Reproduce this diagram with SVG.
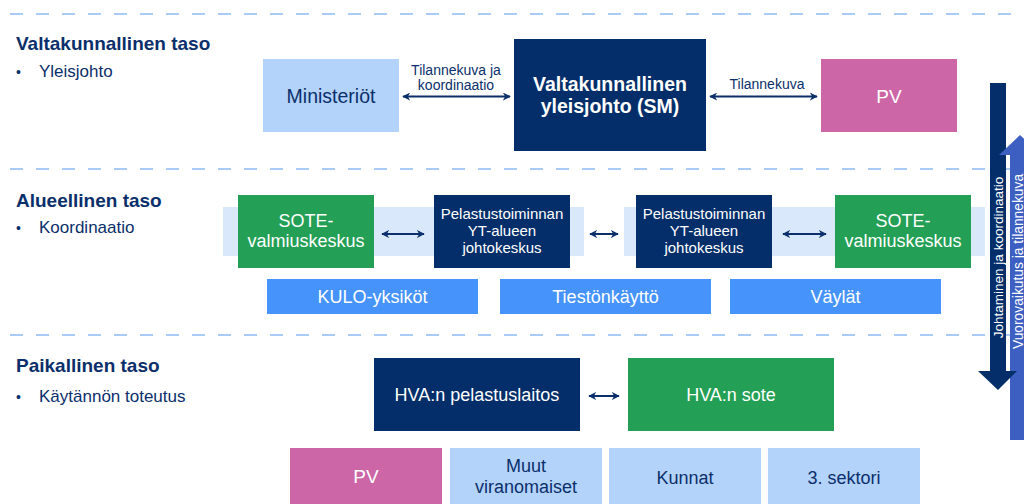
<svg xmlns="http://www.w3.org/2000/svg" width="1024" height="504" viewBox="0 0 1024 504">
<defs>
<style>
text{font-family:"Liberation Sans",Arial,sans-serif;}
.dash{stroke:#a9cbf6;stroke-width:2;stroke-dasharray:13 13;fill:none}
.title{font-weight:bold;font-size:19px;fill:#0b2f6b}
.sub{font-size:17px;fill:#0b2f6b}
.bul{font-size:14px;fill:#0b2f6b}
.navy{fill:#032e69}
.green{fill:#23a055}
.pink{fill:#cc66a6}
.lb{fill:#b3d3fb}
.bb{fill:#4593fb}
.band{fill:#d9e8fb}
.wt{fill:#fff;text-anchor:middle}
.dt{fill:#0b2f6b;text-anchor:middle}
.lab{font-size:14px;fill:#0b2f6b;text-anchor:middle}
.conn{stroke:#0b2f6b;stroke-width:2;fill:none;marker-start:url(#ah);marker-end:url(#ah)}
</style>
<marker id="ah" viewBox="0 0 10 10" refX="9" refY="5" markerWidth="4" markerHeight="4" orient="auto-start-reverse"><path d="M0,0 L10,5 L0,10 L3,5 z" fill="#0b2f6b"/></marker>
</defs>
<rect width="1024" height="504" fill="#fff"/>
<g id="dividers">
<line class="dash" x1="10" y1="14" x2="1024" y2="14"/>
<line class="dash" x1="10" y1="169" x2="1024" y2="169"/>
<line class="dash" x1="10" y1="335" x2="1024" y2="335"/>
</g>
<g id="level-labels">
<text class="title" x="16" y="50">Valtakunnallinen taso</text>
<text class="bul" x="16" y="77">•</text>
<text class="sub" x="39" y="77">Yleisjohto</text>
<text class="title" x="16" y="207">Alueellinen taso</text>
<text class="bul" x="16" y="233">•</text>
<text class="sub" x="39" y="233">Koordinaatio</text>
<text class="title" x="16" y="372">Paikallinen taso</text>
<text class="bul" x="16" y="402">•</text>
<text class="sub" x="39" y="402">Käytännön toteutus</text>
</g>
<g id="bands">
<rect class="band" x="223" y="207" width="361" height="49"/>
<rect class="band" x="624" y="207" width="361" height="49"/>
</g>
<g id="ministeriot"><rect class="lb" x="263" y="59" width="136" height="73"/><text class="dt" x="331" y="103" font-size="19.5">Ministeriöt</text></g>
<g id="sm"><rect class="navy" x="514" y="39" width="192" height="112"/><text class="wt" x="610" y="91" font-size="19.5" font-weight="bold">Valtakunnallinen</text><text class="wt" x="610" y="113" font-size="19.5" font-weight="bold">yleisjohto (SM)</text></g>
<g id="pv-top"><rect class="pink" x="821" y="59" width="136" height="73"/><text class="wt" x="889" y="103" font-size="19">PV</text></g>
<g id="sote-left"><rect class="green" x="238" y="195" width="136" height="73"/><text class="wt" x="306" y="227" font-size="18">SOTE-</text><text class="wt" x="306" y="247" font-size="18">valmiuskeskus</text></g>
<g id="pel-left"><rect class="navy" x="434" y="195" width="136" height="73"/><text class="wt" x="502" y="219" font-size="15">Pelastustoiminnan</text><text class="wt" x="502" y="236" font-size="15">YT-alueen</text><text class="wt" x="502" y="253" font-size="15">johtokeskus</text></g>
<g id="pel-right"><rect class="navy" x="636" y="195" width="136" height="73"/><text class="wt" x="704" y="219" font-size="15">Pelastustoiminnan</text><text class="wt" x="704" y="236" font-size="15">YT-alueen</text><text class="wt" x="704" y="253" font-size="15">johtokeskus</text></g>
<g id="sote-right"><rect class="green" x="835" y="195" width="136" height="73"/><text class="wt" x="903" y="227" font-size="18">SOTE-</text><text class="wt" x="903" y="247" font-size="18">valmiuskeskus</text></g>
<g id="kulo"><rect class="bb" x="267" y="279" width="211" height="35"/><text class="wt" x="372.5" y="303" font-size="18">KULO-yksiköt</text></g>
<g id="tiestonkaytto"><rect class="bb" x="500" y="279" width="211" height="35"/><text class="wt" x="605.5" y="303" font-size="18">Tiestönkäyttö</text></g>
<g id="vaylat"><rect class="bb" x="730" y="279" width="211" height="35"/><text class="wt" x="835.5" y="303" font-size="18">Väylät</text></g>
<g id="hva-pel"><rect class="navy" x="374" y="358" width="206" height="73"/><text class="wt" x="477" y="401" font-size="18">HVA:n pelastuslaitos</text></g>
<g id="hva-sote"><rect class="green" x="628" y="358" width="206" height="73"/><text class="wt" x="731" y="401" font-size="18">HVA:n sote</text></g>
<g id="pv-bottom"><rect class="pink" x="290" y="448" width="152" height="56"/><text class="wt" x="366" y="483" font-size="19">PV</text></g>
<g id="muut"><rect class="lb" x="450" y="448" width="152" height="56"/><text class="dt" x="526" y="472" font-size="18">Muut</text><text class="dt" x="526" y="493" font-size="18">viranomaiset</text></g>
<g id="kunnat"><rect class="lb" x="609" y="448" width="152" height="56"/><text class="dt" x="685" y="484" font-size="18">Kunnat</text></g>
<g id="sektori"><rect class="lb" x="768" y="448" width="152" height="56"/><text class="dt" x="844" y="484" font-size="18">3. sektori</text></g>
<g id="connectors">
<line class="conn" x1="403" y1="96.5" x2="510" y2="96.5"/>
<text class="lab" x="456" y="75">Tilannekuva ja</text>
<text class="lab" x="456" y="90">koordinaatio</text>
<line class="conn" x1="710" y1="96.5" x2="817" y2="96.5"/>
<text class="lab" x="767" y="89">Tilannekuva</text>
<line class="conn" x1="382" y1="234" x2="424" y2="234"/>
<line class="conn" x1="590" y1="234" x2="618" y2="234"/>
<line class="conn" x1="783" y1="234" x2="826" y2="234"/>
<line class="conn" x1="589" y1="396" x2="619" y2="396"/>
</g>
<g id="flow-arrows">
<rect x="1010" y="155" width="20" height="285" fill="#3d5fc1"/>
<polygon points="990,83 1006,83 1006,371 1017,371 998,390 978,371 990,371" fill="#032e69"/>
<polygon points="999,155 1020,135 1041,155" fill="#3d5fc1"/>
<text x="0" y="0" transform="translate(1003,257.5) rotate(-90)" font-size="13.5" fill="#fff" text-anchor="middle">Johtaminen ja koordinaatio</text>
<text x="0" y="0" transform="translate(1023,261.5) rotate(-90)" font-size="13.8" fill="#fff" text-anchor="middle">Vuorovaikutus ja tilannekuva</text>
</g>
</svg>
